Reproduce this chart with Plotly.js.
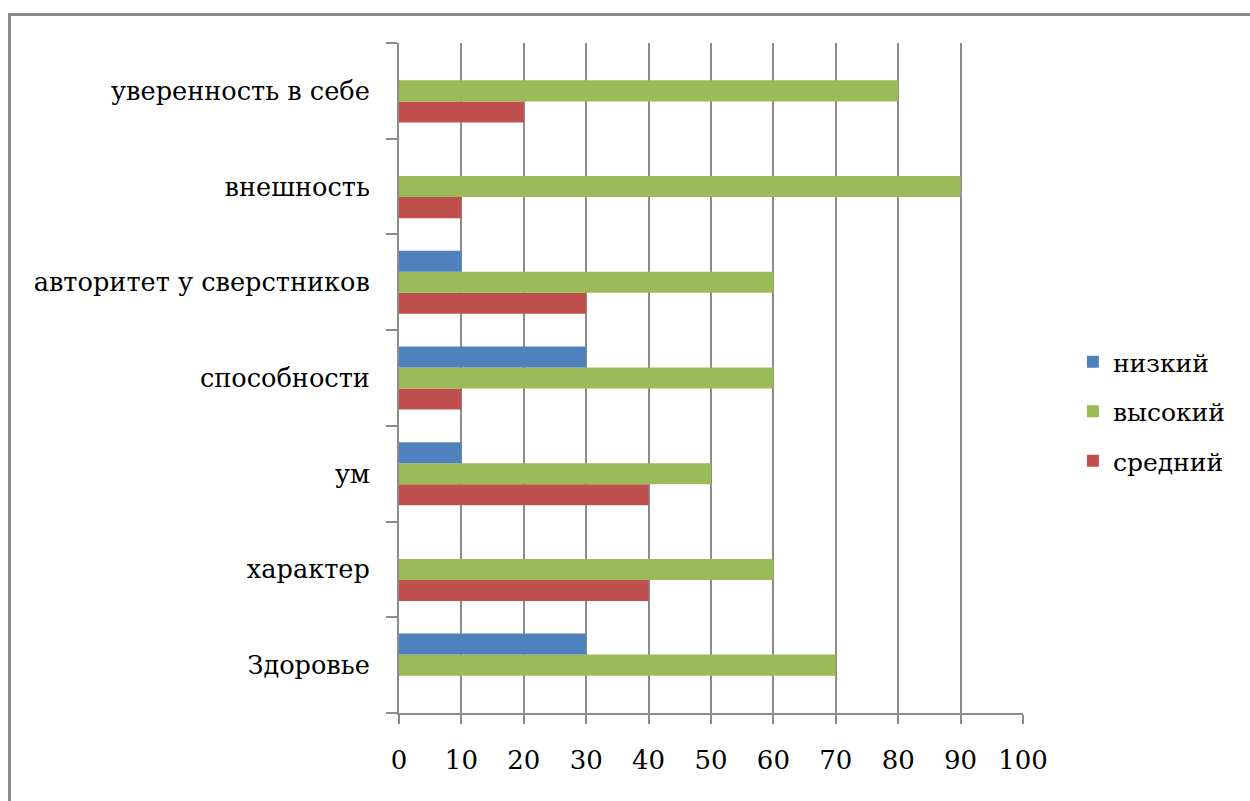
<!DOCTYPE html>
<html>
<head>
<meta charset="utf-8">
<script src="https://cdn.plot.ly/plotly-3.0.1.min.js"></script>
<style>
  html, body { margin: 0; padding: 0; background: #fff; }
  #chart { width: 1250px; height: 801px; }
</style>
</head>
<body>
<div id="chart"></div>
<script>
// Self-assessment categories, bottom to top
const categories = [
  'Здоровье',
  'характер',
  'ум',
  'способности',
  'авторитет у сверстников',
  'внешность',
  'уверенность в себе'
];

// Share of pupils by level, %
const lowValues  = [30, 0, 10, 30, 10, 0, 0];   // низкий
const highValues = [70, 60, 50, 60, 60, 90, 80]; // высокий
const midValues  = [0, 40, 40, 10, 30, 10, 20];  // средний

const xTicks = [0, 10, 20, 30, 40, 50, 60, 70, 80, 90, 100];

const FONT = 'DejaVu Serif';
const GRID = '#8c8c8c';

// Traces are listed bottom-to-top within each group (средний lowest, низкий on top);
// each sits in its own legend group so the legend rows can be spaced apart
const traces = [
  { name: 'средний', legendgroup: 'c', legendrank: 3, y: categories, x: midValues,
    type: 'bar', orientation: 'h', marker: { color: '#C0504D' } },
  { name: 'высокий', legendgroup: 'b', legendrank: 2, y: categories, x: highValues,
    type: 'bar', orientation: 'h', marker: { color: '#9BBB59' } },
  { name: 'низкий',  legendgroup: 'a', legendrank: 1, y: categories, x: lowValues,
    type: 'bar', orientation: 'h', marker: { color: '#4F81BD' } }
];

const layout = {
  width: 1250,
  height: 801,
  margin: { l: 399, r: 227, t: 43, b: 88, pad: 0 },
  paper_bgcolor: '#fff',
  plot_bgcolor: '#fff',
  barmode: 'group',
  bargap: 0.34,
  bargroupgap: 0,
  font: { family: FONT, size: 25, color: '#000' },
  showlegend: true,
  legend: {
    traceorder: 'grouped',
    x: 1.08, xanchor: 'left',
    y: 0.45, yanchor: 'middle',
    font: { family: FONT, size: 25, color: '#000' },
    itemwidth: 30,
    tracegroupgap: 14,
    bgcolor: 'rgba(0,0,0,0)'
  },
  xaxis: {
    range: [0, 100],
    tickvals: xTicks,
    ticktext: xTicks.map(String),
    showgrid: true,
    gridcolor: GRID,
    gridwidth: 2,
    showline: true,
    linecolor: GRID,
    linewidth: 2,
    ticks: 'outside',
    ticklen: 9,
    tickwidth: 2,
    tickcolor: GRID,
    ticklabelstandoff: 14,
    zeroline: false,
    fixedrange: true,
    tickfont: { family: FONT, size: 26, color: '#000' }
  },
  yaxis: {
    type: 'category',
    categoryorder: 'array',
    categoryarray: categories,
    showgrid: false,
    showline: true,
    linecolor: GRID,
    linewidth: 2,
    ticks: 'outside',
    tickson: 'boundaries',
    ticklen: 11,
    tickwidth: 2,
    tickcolor: GRID,
    ticklabelstandoff: 22,
    zeroline: false,
    fixedrange: true,
    tickfont: { family: FONT, size: 25.6, color: '#000' }
  },
  shapes: [
    // outer chart frame
    { type: 'rect', xref: 'paper', yref: 'paper',
      x0: (9.5 - 399) / 624, x1: (1260 - 399) / 624,
      y0: (713 - 812) / 670, y1: (713 - 14.5) / 670,
      line: { color: '#8a8a8a', width: 3 }, fillcolor: 'rgba(0,0,0,0)', layer: 'below' }
  ]
};

Plotly.newPlot('chart', traces, layout, { displayModeBar: false, staticPlot: true });
</script>
</body>
</html>
